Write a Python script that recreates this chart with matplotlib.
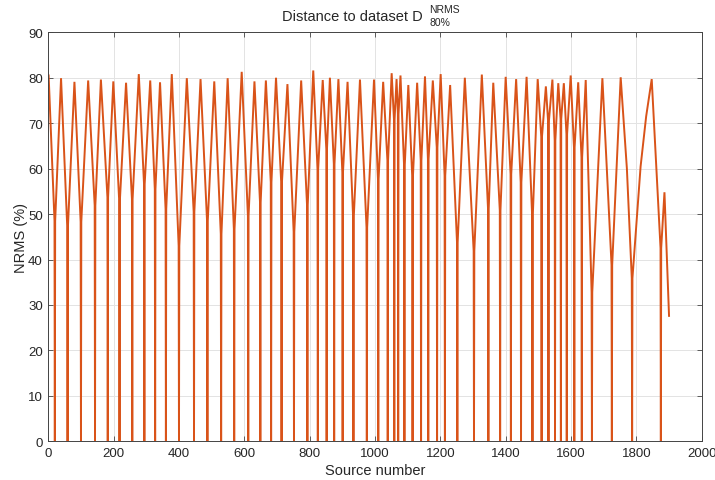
import matplotlib
matplotlib.use("Agg")
import matplotlib.pyplot as plt

plt.rcParams["font.family"] = ["Liberation Sans", "DejaVu Sans"]

# Sources that belong to dataset D (distance 0) and the NRMS of their neighbours
zero_src = [20, 59, 100, 143, 182, 218, 257, 294, 327, 360, 400, 446, 487, 529,
            569, 612, 649, 682, 714, 752, 793, 825, 852, 875, 901, 934, 975,
            1010, 1039, 1059, 1071, 1090, 1115, 1141, 1163, 1190, 1214, 1252,
            1303, 1347, 1383, 1416, 1447, 1482, 1510, 1531, 1551, 1569, 1587,
            1610, 1633, 1664, 1725, 1787, 1875]
dip_nrms = [48.5, 47.1, 48.3, 51.9, 53.7, 52.9, 53.3, 56.6, 55.5, 51.1, 43.0,
            50.5, 48.3, 45.6, 46.7, 49.6, 52.6, 57.0, 56.8, 46.1, 51.9, 59.9,
            64.3, 61.0, 59.2, 49.3, 47.1, 57.7, 61.8, 70.9, 72.0, 60.6, 58.1,
            61.8, 62.1, 64.7, 58.5, 43.8, 41.9, 51.1, 50.8, 58.8, 57.0, 49.6,
            66.9, 70.2, 66.2, 70.9, 67.6, 64.7, 62.5, 32.8, 38.8, 35.9, 42.5]

# Local maxima (and a few shoulder points) between consecutive dataset sources
peak_src = [1, 39, 80, 122, 161, 199, 238, 277, 312, 342, 378, 424, 466, 508,
            549, 592, 631, 666, 697, 732, 774, 811, 840, 862, 888, 916, 954,
            997, 1025, 1051, 1066, 1078, 1102, 1129, 1153, 1177, 1201, 1230,
            1275, 1327, 1362, 1400, 1432, 1464, 1498, 1523, 1543, 1561, 1578,
            1599, 1622, 1645, 1696, 1752, 1771, 1813, 1830, 1847, 1886, 1900]
peak_nrms = [80.5, 79.9, 79.1, 79.4, 79.6, 79.2, 78.9, 80.8, 79.4, 79.0, 80.8,
             79.9, 79.7, 79.2, 79.9, 81.3, 79.2, 79.4, 80.0, 78.6, 79.4, 81.6,
             79.5, 80.0, 79.7, 79.1, 79.6, 79.6, 79.1, 81.0, 79.7, 80.5, 78.4,
             78.9, 80.3, 79.4, 80.8, 78.4, 80.0, 80.7, 78.9, 80.2, 79.7, 80.2,
             79.7, 78.1, 79.6, 78.8, 78.8, 80.5, 79.0, 79.5, 79.9, 80.1, 60.0,
             60.5, 71.5, 79.7, 54.8, 27.6]

x_ticks = list(range(0, 2001, 200))
y_ticks = list(range(0, 91, 10))

# Assemble the curve: each dataset source is a single-sample drop to zero
pts = [(p, v) for p, v in zip(peak_src, peak_nrms)]
for z, d in zip(zero_src, dip_nrms):
    pts += [(z - 1, d), (z, 0.0), (z + 1, d)]
pts.sort(key=lambda t: t[0])
src = [p[0] for p in pts]
nrms = [p[1] for p in pts]

W, H = 715, 481
fig = plt.figure(figsize=(W / 100, H / 100), dpi=100)
ax = fig.add_axes([48.3 / W, 1 - 442.3 / H, 653.4 / W, 409.0 / H])

ax.plot(src, nrms, color="#D95319", lw=1.4, solid_joinstyle="miter")

ax.set_xlim(0, 2000)
ax.set_ylim(0, 90)
ax.set_xticks(x_ticks)
ax.set_yticks(y_ticks)
ax.grid(True, color="#e3e3e3", lw=0.7)
ax.set_axisbelow(True)

edge = "#262626"
for s in ax.spines.values():
    s.set_color("#444444")
    s.set_linewidth(0.7)
ax.tick_params(direction="in", length=3.5, width=0.6, colors="#444444",
               labelcolor=edge, labelsize=9.5, top=True, right=True, pad=4)

ax.set_xlabel("Source number", fontsize=10.5, color=edge)
ax.xaxis.set_label_coords(0.5, -0.053)
ax.set_ylabel("NRMS (%)", fontsize=10.5, color=edge)
ax.yaxis.set_label_coords(-0.031, 0.5)

# Title with stacked super/subscript
fig.text(352 / W, 1 - 17 / H, "Distance to dataset D", fontsize=10.5,
         color=edge, ha="center", va="center")
fig.text(429 / W, 1 - 10 / H, "NRMS", fontsize=7.5, color=edge,
         ha="left", va="center")
fig.text(429 / W, 1 - 23 / H, "80%", fontsize=7.5, color=edge,
         ha="left", va="center")

fig.savefig("out.png", dpi=100, facecolor="white")
